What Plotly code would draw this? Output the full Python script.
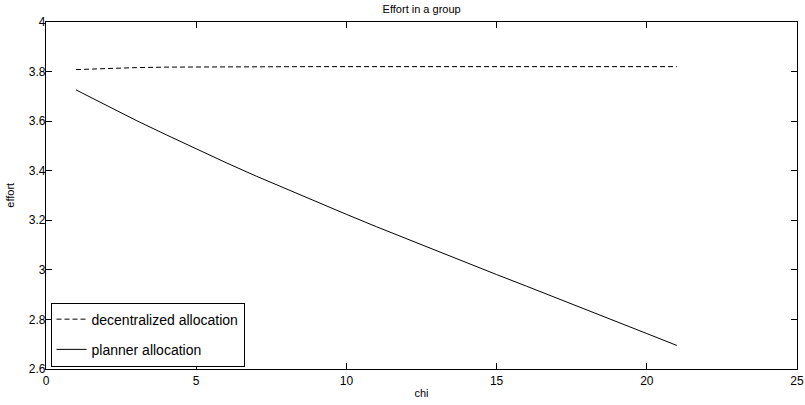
import plotly.graph_objects as go

chi = list(range(1, 22))
decentralized = [3.808, 3.813, 3.816, 3.818, 3.819, 3.820, 3.820, 3.820, 3.820, 3.820,
                 3.820, 3.820, 3.820, 3.820, 3.820, 3.820, 3.820, 3.820, 3.820, 3.820, 3.820]
planner = [3.726, 3.664, 3.603, 3.545, 3.488, 3.432, 3.378, 3.326, 3.275, 3.224,
           3.174, 3.125, 3.077, 3.029, 2.981, 2.934, 2.887, 2.839, 2.791, 2.743, 2.695]

x_ticks = [0, 5, 10, 15, 20, 25]
y_ticks = [2.6, 2.8, 3.0, 3.2, 3.4, 3.6, 3.8, 4.0]
y_tick_labels = ["2.6", "2.8", "3", "3.2", "3.4", "3.6", "3.8", "4"]

FONT = "Liberation Sans, Arial, sans-serif"

fig = go.Figure()
fig.add_trace(go.Scatter(x=chi, y=decentralized, mode="lines", name="decentralized allocation",
                         legendgroup="a",
                         line=dict(color="black", width=1, dash="5px,3px")))
fig.add_trace(go.Scatter(x=chi, y=planner, mode="lines", name="planner allocation",
                         legendgroup="b",
                         line=dict(color="black", width=1)))

fig.update_layout(
    width=805, height=405,
    margin=dict(l=46, r=8, t=22, b=36),
    paper_bgcolor="white", plot_bgcolor="white",
    font=dict(family=FONT, size=12, color="black"),
    title=dict(text="Effort in a group", x=0.5238, xanchor="center", y=0.978, yanchor="middle",
               font=dict(size=11, family=FONT, color="black")),
    legend=dict(x=0.006, y=0.007, xanchor="left", yanchor="bottom",
                bordercolor="black", borderwidth=1, bgcolor="white",
                font=dict(size=14, family=FONT), tracegroupgap=9,
                traceorder="grouped"),
    showlegend=True,
    annotations=[dict(text="effort", xref="paper", yref="paper", x=-0.049, y=0.5,
                      xanchor="center", yanchor="middle", textangle=-90, showarrow=False,
                      font=dict(size=11, family=FONT, color="black"))],
)
fig.update_xaxes(range=[0, 25], tickvals=x_ticks, ticks="inside", ticklen=6, tickcolor="black",
                 showline=True, linecolor="black", linewidth=1.3, mirror="ticks",
                 showgrid=False, zeroline=False, automargin=False,
                 title=dict(text="chi", standoff=2, font=dict(size=11)),
                 tickfont=dict(size=12))
fig.update_yaxes(range=[2.6, 4.0], tickvals=y_ticks, ticktext=y_tick_labels, ticks="inside",
                 ticklen=6, tickcolor="black", ticklabelstandoff=-3,
                 showline=True, linecolor="black", linewidth=1.3, mirror="ticks",
                 showgrid=False, zeroline=False, automargin=False,
                 tickfont=dict(size=12))

fig.write_html("out.html", config={"displayModeBar": False},
               post_script="document.body.style.margin='0';")
